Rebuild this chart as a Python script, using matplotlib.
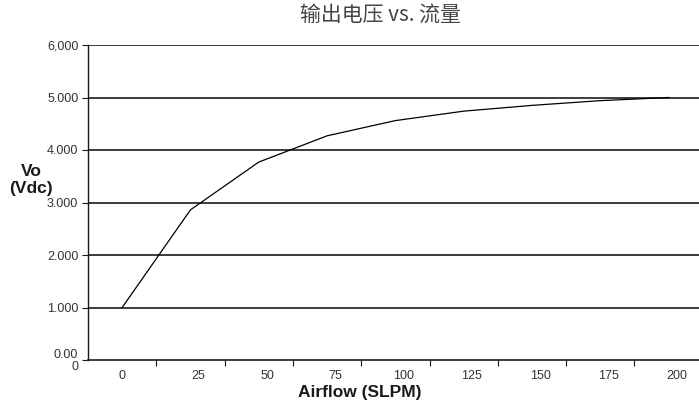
import numpy as np
import matplotlib
matplotlib.use('Agg')
import matplotlib.pyplot as plt

# ── Data ──────────────────────────────────────────────────────────────────────
airflow = ['0', '25', '50', '75', '100', '125', '150', '175', '200']
vout    = [1.00, 2.86, 3.77, 4.27, 4.56, 4.74, 4.85, 4.94, 5.00]
y_ticks  = [0, 1, 2, 3, 4, 5, 6]
y_labels = ['0.00\n0', '1.000', '2.000', '3.000', '4.000', '5.000', '6,000']

# ── Figure ────────────────────────────────────────────────────────────────────
plt.rcParams['font.family'] = ['Liberation Sans', 'DejaVu Sans']
fig = plt.figure(figsize=(6.99, 4.05), dpi=100)
ax = fig.add_axes([88/699, 1 - 360/405, 611/699, 315/405])

x = np.arange(len(airflow))
ax.plot(x, vout, color='black', lw=0.9, zorder=3)

ax.set_xlim(-0.5, 8.445)
ax.set_ylim(0, 6)

# horizontal grid at each volt
for yv in y_ticks[1:]:
    ax.axhline(yv, color='#1a1a1a', lw=1.2, zorder=1)

for side in ('top', 'right'):
    ax.spines[side].set_visible(False)
ax.spines['left'].set_color('#1a1a1a')
ax.spines['bottom'].set_color('#1a1a1a')
ax.spines['left'].set_linewidth(1.0)
ax.spines['bottom'].set_linewidth(1.2)

ax.set_yticks(y_ticks)
ax.set_yticklabels(y_labels, fontsize=9, color='#333333', ha='right',
                   multialignment='right', linespacing=1.0)
ax.tick_params(axis='y', length=4, width=0.8, color='#1a1a1a', pad=3)

# category labels in the middle, tick marks on the boundaries
ax.set_xticks([0] + [i + 0.12 for i in x[1:]])
ax.set_xticklabels(airflow, fontsize=9, color='#333333')
ax.tick_params(axis='x', which='major', length=0, pad=7)
ax.set_xticks(x[:-1] + 0.5, minor=True)
ax.tick_params(axis='x', which='minor', length=4, width=0.8, color='#1a1a1a')

fig.text(31/699, 1 - 180/405, 'Vo\n(Vdc)', fontsize=12.5, fontweight='bold',
         ha='center', va='center', color='#1a1a1a', linespacing=1.15)
fig.text(360/699, 1 - 392/405, 'Airflow (SLPM)', fontsize=12.5, fontweight='bold',
         ha='center', va='center', color='#1a1a1a')
fig.text(380/699, 1 - 16/405, '输出电压 vs. 流量', fontsize=15, ha='center', va='center',
         color='#444444', family=['Noto Sans CJK SC', 'DejaVu Sans'])

fig.savefig('out.png', dpi=100)
